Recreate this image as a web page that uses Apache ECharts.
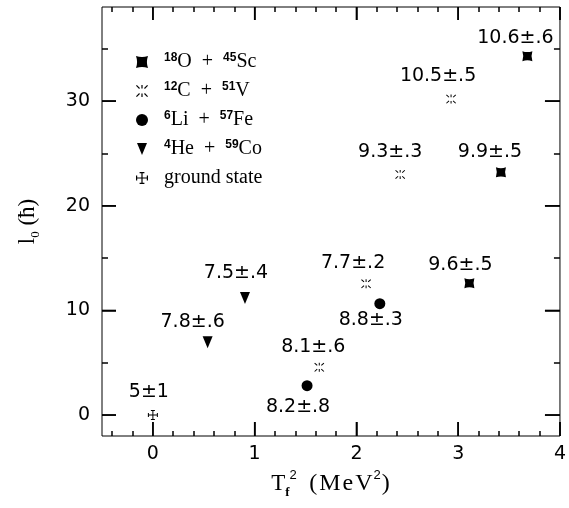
<!DOCTYPE html>
<html>
<head>
<meta charset="utf-8">
<script src="https://cdn.jsdelivr.net/npm/echarts@6/dist/echarts.min.js"></script>
<style>
  html, body { margin: 0; padding: 0; background: #fff; }
  #chart { width: 569px; height: 508px; background: #fff; }
</style>
</head>
<body>
<div id="chart"></div>
<script>
// Axis ranges and ticks
const xRange = [-0.5, 4];
const yRange = [-2, 39];
const xTicks = [0, 1, 2, 3, 4];
const xMinorTicks = [-0.4, -0.2, 0.2, 0.4, 0.6, 0.8, 1.2, 1.4, 1.6, 1.8, 2.2, 2.4, 2.6, 2.8, 3.2, 3.4, 3.6, 3.8];
const yTicks = [0, 10, 20, 30];
const yMinorTicks = [5, 15, 25, 35];

// Reaction names (legend order)
const reactions = ['18O + 45Sc', '12C + 51V', '6Li + 57Fe', '4He + 59Co', 'ground state'];

// [Tf^2 (MeV^2), l0 (hbar)] and the temperature annotation of each point
const scPoints = [[3.68, 34.3], [3.42, 23.2], [3.11, 12.6]];
const scTemps = ['10.6±.6', '9.9±.5', '9.6±.5'];

const vPoints = [[2.93, 30.2], [2.43, 23.0], [2.095, 12.55], [1.635, 4.57]];
const vTemps = ['10.5±.5', '9.3±.3', '7.7±.2', '8.1±.6'];

const fePoints = [[2.23, 10.65], [1.515, 2.81]];
const feTemps = ['8.8±.3', '8.2±.8'];

const coPoints = [[0.905, 11.2], [0.538, 6.97]];
const coTemps = ['7.5±.4', '7.8±.6'];

const groundPoints = [[0, 0]];
const groundTemps = ['5±1'];

// Annotation placement relative to each marker (px)
const scShift = [[-12, -18], [-11, -20], [-9, -18]];
const vShift = [[-13, -23], [-10, -22], [-13, -21], [-6, -20]];
const feShift = [[-9, 16], [-9, 21]];
const coShift = [[-9, -25], [-15, -20]];
const groundShift = [[-4, -23]];

// Marker shapes
const symConcaveSquare = 'path://M0,0 Q5,1.8 10,0 Q8.2,5 10,10 Q5,8.2 0,10 Q1.8,5 0,0 Z';
const symBurst = 'path://M0,0.7 L0.7,0 L3.3,2.6 L2.6,3.3 Z M10,0.7 L9.3,0 L6.7,2.6 L7.4,3.3 Z ' +
  'M0,9.3 L0.7,10 L3.3,7.4 L2.6,6.7 Z M10,9.3 L9.3,10 L6.7,7.4 L7.4,6.7 Z ' +
  'M4.5,0 H5.5 V3 H4.5 Z M4.5,7 H5.5 V10 H4.5 Z';
const symDown = 'path://M0,0 H10 L5,12 Z';
const symErrorCross = 'path://M0,4.5 H10 V5.5 H0 Z M0,3 H1 V7 H0 Z M9,3 H10 V7 H9 Z ' +
  'M4.5,0 H5.5 V10 H4.5 Z M3,0 H7 V1 H3 Z M3,9 H7 V10 H3 Z';

const ink = '#000';
const labelFont = { color: ink, fontFamily: 'DejaVu Sans', fontSize: 19 };

function makeSeries(name, points, temps, shifts, symbol, size) {
  return {
    name: name,
    type: 'scatter',
    xAxisIndex: 0,
    yAxisIndex: 0,
    symbol: symbol,
    symbolSize: size,
    itemStyle: { color: ink, opacity: 1 },
    label: Object.assign({
      show: true,
      position: 'inside',
      formatter: (p) => temps[p.dataIndex]
    }, labelFont),
    labelLayout: (p) => ({ dx: shifts[p.dataIndex][0], dy: shifts[p.dataIndex][1], hideOverlap: false }),
    emphasis: { disabled: true },
    data: points
  };
}

// Major ticks on all four sides of the frame, placed through the axis scales
const MAJOR_LEN = 14;
function majorTickSeries() {
  const data = xTicks.map((v) => [v, 0]).concat(yTicks.map((v) => [0, v]));
  return {
    type: 'custom',
    xAxisIndex: 0,
    yAxisIndex: 0,
    silent: true,
    clip: false,
    z: 5,
    data: data,
    renderItem: (params, api) => {
      const isY = params.dataIndex >= xTicks.length;
      const style = { stroke: ink, lineWidth: 1.5 };
      if (!isY) {
        const v = api.value(0);
        const b = api.coord([v, yRange[0]]);
        const t = api.coord([v, yRange[1]]);
        return {
          type: 'group',
          children: [
            { type: 'line', shape: { x1: b[0], y1: b[1], x2: b[0], y2: b[1] - MAJOR_LEN }, style: style },
            { type: 'line', shape: { x1: t[0], y1: t[1], x2: t[0], y2: t[1] + MAJOR_LEN - 1 }, style: style }
          ]
        };
      }
      const v = api.value(1);
      const l = api.coord([xRange[0], v]);
      const r = api.coord([xRange[1], v]);
      return {
        type: 'group',
        children: [
          { type: 'line', shape: { x1: l[0], y1: l[1], x2: l[0] + MAJOR_LEN, y2: l[1] }, style: style },
          { type: 'line', shape: { x1: r[0], y1: r[1], x2: r[0] - MAJOR_LEN - 1, y2: r[1] }, style: style }
        ]
      };
    }
  };
}

// The frame is the grid border; axes carry ticks and labels.
function xAxisDef(position, ticks, len, withLabels) {
  return {
    type: 'value', position: position, min: xRange[0], max: xRange[1],
    axisLine: { show: false, onZero: false },
    axisTick: { show: true, inside: true, length: len, customValues: ticks, lineStyle: { color: ink, width: 1.5 } },
    axisLabel: withLabels
      ? Object.assign({ show: true, customValues: xTicks, margin: 9 }, labelFont)
      : { show: false },
    splitLine: { show: false }
  };
}

function yAxisDef(position, ticks, len, withLabels) {
  return {
    type: 'value', position: position, min: yRange[0], max: yRange[1],
    axisLine: { show: false, onZero: false },
    axisTick: { show: true, inside: true, length: len, customValues: ticks, lineStyle: { color: ink, width: 1.5 } },
    axisLabel: withLabels
      ? Object.assign({ show: true, customValues: yTicks, margin: 12 }, labelFont)
      : { show: false },
    splitLine: { show: false }
  };
}

const xMain = xAxisDef('bottom', xTicks, 14, true);
xMain.name = '{t|T}{sb|f}{sp|2}{t|  }{w|(}{w|M}{w|e}{w|V}{sp|2}{w|)}';
xMain.nameLocation = 'middle';
xMain.nameGap = 32;
xMain.nameTextStyle = {
  rich: {
    t: { fontFamily: 'Liberation Serif', fontSize: 23, color: ink, lineHeight: 30 },
    w: { fontFamily: 'Liberation Serif', fontSize: 24, color: ink, lineHeight: 30, padding: [0, 1, 0, 1] },
    sb: { fontFamily: 'Liberation Serif', fontWeight: 'bold', fontSize: 13, color: ink, verticalAlign: 'bottom', lineHeight: 13 },
    sp: { fontFamily: 'Liberation Sans', fontSize: 13, color: ink, verticalAlign: 'top', lineHeight: 13 }
  }
};

const yMain = yAxisDef('left', yTicks, 14, true);
yMain.name = '{t|l}{sb|0}{t| (ħ)}';
yMain.nameLocation = 'middle';
yMain.nameGap = 60;
yMain.nameTextStyle = {
  rich: {
    t: { fontFamily: 'Liberation Serif', fontSize: 23, color: ink, lineHeight: 28 },
    sb: { fontFamily: 'Liberation Serif', fontSize: 13, color: ink, verticalAlign: 'bottom', lineHeight: 13 }
  }
};

// Legend text with isotope mass numbers as superscripts
const legendText = {
  '18O + 45Sc': '{g| }{s|18}{m|O  +  }{s|45}{m|Sc}',
  '12C + 51V': '{g| }{s|12}{m|C  +  }{s|51}{m|V}',
  '6Li + 57Fe': '{g| }{s|6}{m|Li  +  }{s|57}{m|Fe}',
  '4He + 59Co': '{g| }{s|4}{m|He  +  }{s|59}{m|Co}',
  'ground state': '{g| }{m|ground state}'
};

const legendIcons = [symConcaveSquare, symBurst, 'circle', symDown, symErrorCross];

const option = {
  animation: false,
  grid: {
    left: 102, right: 9, top: 7, bottom: 72,
    show: true, borderColor: ink, borderWidth: 1
  },
  xAxis: [
    xMain,
    xAxisDef('bottom', xMinorTicks, 5, false),
    xAxisDef('top', xTicks, 13, false),
    xAxisDef('top', xMinorTicks, 5, false)
  ],
  yAxis: [
    yMain,
    yAxisDef('left', yMinorTicks, 6, false),
    yAxisDef('right', yTicks, 15, false),
    yAxisDef('right', yMinorTicks, 6, false)
  ],
  legend: {
    orient: 'vertical',
    left: 131,
    top: 47,
    itemWidth: 12,
    itemHeight: 12,
    itemGap: 9,
    selectedMode: false,
    data: reactions.map((n, i) => ({ name: n, icon: legendIcons[i] })),
    formatter: (n) => legendText[n],
    textStyle: {
      color: ink,
      fontFamily: 'Liberation Serif',
      fontSize: 20,
      rich: {
        g: { width: 11 },
        m: { fontFamily: 'Liberation Serif', fontSize: 20, color: ink, lineHeight: 20 },
        s: { fontFamily: 'Liberation Sans', fontWeight: 'bold', fontSize: 12, color: ink, verticalAlign: 'top', lineHeight: 12 }
      }
    }
  },
  series: [
    makeSeries(reactions[0], scPoints, scTemps, scShift, symConcaveSquare, 10),
    makeSeries(reactions[1], vPoints, vTemps, vShift, symBurst, [10, 9]),
    makeSeries(reactions[2], fePoints, feTemps, feShift, 'circle', 11),
    makeSeries(reactions[3], coPoints, coTemps, coShift, symDown, [10, 12]),
    makeSeries(reactions[4], groundPoints, groundTemps, groundShift, symErrorCross, 10),
    majorTickSeries()
  ]
};

const chart = echarts.init(document.getElementById('chart'), null, { renderer: 'canvas' });
chart.setOption(option);
</script>
</body>
</html>
